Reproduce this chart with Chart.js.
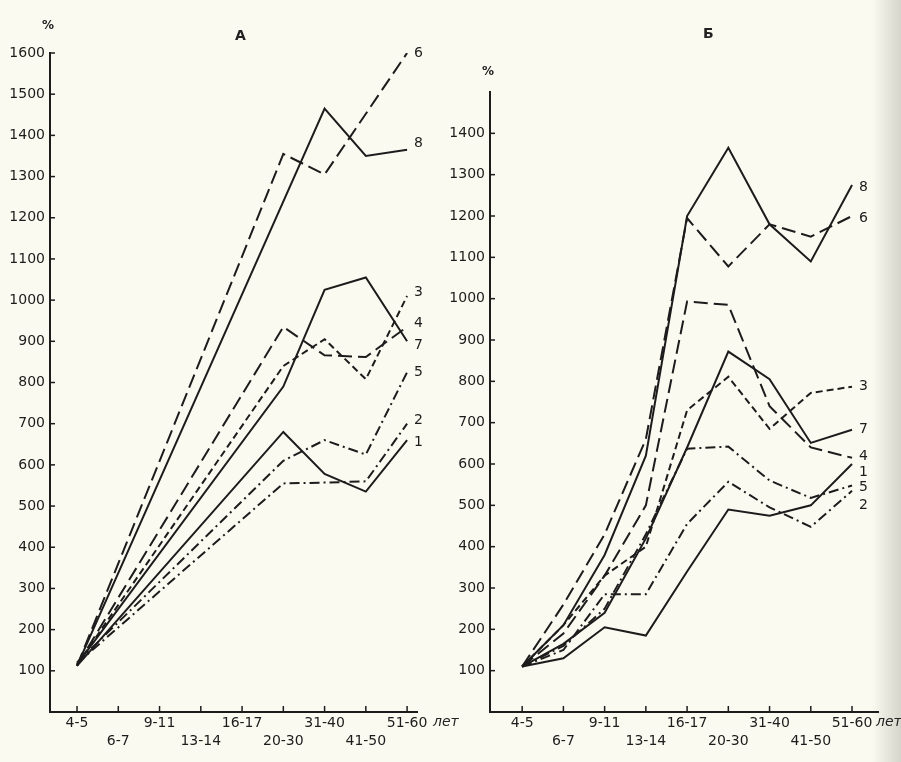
<!DOCTYPE html>
<html>
<head>
<meta charset="utf-8">
<script src="https://cdn.jsdelivr.net/npm/chart.js@4"></script>
<style>
  body { margin: 0; width: 901px; height: 762px; overflow: hidden;
         background: linear-gradient(to right, #fbfaf1 0, #fbfaf1 872px, #d6d5cc 901px);
         font-family: "DejaVu Sans", sans-serif; color: #222; }
  .box { position: absolute; top: 0; height: 762px; }
  .txt { position: absolute; font-size: 14px; }
</style>
</head>
<body>
<div class="box" style="left:0;width:450px"><canvas id="chartA" width="450" height="762"></canvas></div>
<div class="box" style="left:445px;width:456px"><canvas id="chartB" width="456" height="762"></canvas></div>
<div class="txt" style="left:42px;top:18px;font-size:12px;font-weight:bold">%</div>
<div class="txt" style="left:235px;top:27px;font-weight:bold">А</div>
<div class="txt" style="left:482px;top:64px;font-size:12px;font-weight:bold">%</div>
<div class="txt" style="left:703px;top:25px;font-weight:bold">Б</div>
<div class="txt" style="left:433px;top:713px;font-style:italic">лет</div>
<div class="txt" style="left:876px;top:713px;font-style:italic">лет</div>
<script>
// ==========================
// DATA
// ==========================
const ageLabels = ["4-5", "6-7", "9-11", "13-14", "16-17", "20-30", "31-40", "41-50", "51-60"];
const seriesNames = ["1", "2", "3", "4", "5", "6", "7", "8"];

// chart A (only measured ages)
const a1 = [112, null, null, null, null, 680, 578, 535, 660];
const a2 = [118, null, null, null, null, 555, 557, 560, 700];
const a3 = [115, null, null, null, null, 840, 905, 808, 1010];
const a4 = [113, null, null, null, null, 935, 866, 862, 935];
const a5 = [120, null, null, null, null, 610, 660, 625, 825];
const a6 = [112, null, null, null, null, 1355, 1305, null, 1600];
const a7 = [115, null, null, null, null, 790, 1025, 1055, 900];
const a8 = [112, null, null, null, null, null, 1465, 1350, 1365];

// chart Б
const b1 = [110, 130, 205, 185, 340, 490, 475, 500, 600];
const b2 = [110, 150, 285, 285, 455, 557, 495, 448, 535];
const b3 = [110, 210, 330, 400, 730, 811, 685, 772, 787];
const b4 = [110, 190, 330, 500, 993, 985, 740, 640, 615];
const b5 = [110, 160, 250, 430, 637, 642, 560, 518, 548];
const b6 = [110, 260, 430, 660, 1195, 1078, 1180, 1150, 1200];
const b7 = [110, 165, 240, 420, 640, 872, 805, 651, 683];
const b8 = [110, 210, 380, 620, 1200, 1365, 1180, 1090, 1275];

// ==========================
// STYLES
// ==========================
const ink = "#1c1c1c";
const dashes = {
  "1": [], "7": [], "8": [],
  "2": [10, 4, 2, 4], "5": [10, 4, 2, 4],
  "3": [7, 4],
  "4": [14, 6], "6": [14, 6]
};

const toPoints = arr => arr.map((v, i) => ({ x: i, y: v })).filter(p => p.y !== null);

function buildDatasets(list) {
  return list.map((arr, i) => ({
    label: seriesNames[i],
    data: toPoints(arr),
    borderColor: ink,
    borderWidth: 2,
    borderDash: dashes[seriesNames[i]],
    pointRadius: 0,
    tension: 0,
    fill: false
  }));
}

// inward tick marks + end labels
const decorPlugin = {
  id: "decor",
  afterDraw(chart, args, opts) {
    const { ctx, chartArea, scales } = chart;
    ctx.save();
    ctx.strokeStyle = ink;
    ctx.lineWidth = 1.5;
    ageLabels.forEach((_, i) => {
      const px = scales.x.getPixelForValue(i);
      ctx.beginPath();
      ctx.moveTo(px, chartArea.bottom);
      ctx.lineTo(px, chartArea.bottom - 6);
      ctx.stroke();
    });
    scales.y.ticks.forEach(t => {
      if (t.value === 0 || t.value > opts.lastTick) return;
      const py = scales.y.getPixelForValue(t.value);
      ctx.beginPath();
      ctx.moveTo(chartArea.left, py);
      ctx.lineTo(chartArea.left + 5, py);
      ctx.stroke();
    });
    ctx.fillStyle = ink;
    ctx.font = "14px 'DejaVu Sans'";
    ctx.textBaseline = "middle";
    chart.data.datasets.forEach((ds, i) => {
      const pts = chart.getDatasetMeta(i).data;
      const last = pts[pts.length - 1];
      const dy = (opts.labelShift[ds.label] || 0);
      ctx.fillText(ds.label, last.x + 7, last.y + dy);
    });
    ctx.restore();
  }
};

function makeChart(id, list, cfg) {
  return new Chart(document.getElementById(id), {
    type: "line",
    data: { datasets: buildDatasets(list) },
    options: {
      responsive: false,
      animation: false,
      devicePixelRatio: 1,
      layout: { padding: { top: cfg.top, right: cfg.right, left: 0, bottom: 0 } },
      plugins: {
        legend: { display: false },
        tooltip: { enabled: false },
        decor: { lastTick: cfg.lastTick, labelShift: cfg.labelShift }
      },
      scales: {
        x: {
          type: "linear",
          min: cfg.xMin,
          max: cfg.xMax,
          afterBuildTicks: s => { s.ticks = ageLabels.map((_, i) => ({ value: i })); },
          afterFit: s => { s.height = 50; },
          grid: { display: false, drawTicks: false },
          border: { display: true, color: ink, width: 2 },
          ticks: {
            autoSkip: false,
            maxRotation: 0,
            padding: 2,
            color: ink,
            font: { family: "DejaVu Sans", size: 14, lineHeight: 1.3 },
            callback: v => (v % 2 === 0 ? [ageLabels[v], ""] : ["", ageLabels[v]])
          }
        },
        y: {
          min: 0,
          max: cfg.yMax,
          afterFit: s => { s.width = cfg.yWidth; },
          grid: { display: false, drawTicks: false },
          border: { display: true, color: ink, width: 2 },
          ticks: {
            stepSize: 100,
            padding: 5,
            color: ink,
            font: { family: "DejaVu Sans", size: 14 },
            callback: v => (v === 0 || v > cfg.lastTick ? "" : v)
          }
        }
      }
    },
    plugins: [decorPlugin]
  });
}

makeChart("chartA", [a1, a2, a3, a4, a5, a6, a7, a8], {
  top: 53, right: 33, yWidth: 50, yMax: 1600, lastTick: 1600,
  xMin: -0.655, xMax: 8.24,
  labelShift: { "8": -6, "3": -4, "4": -4, "7": 4, "2": -3, "1": 2 }
});

makeChart("chartB", [b1, b2, b3, b4, b5, b6, b7, b8], {
  top: 92, right: 23, yWidth: 45, yMax: 1500, lastTick: 1400,
  xMin: -0.78, xMax: 8.63,
  labelShift: { "1": 8, "2": 14, "4": -1, "5": 2, "8": 2, "6": 2 }
});
</script>
</body>
</html>
